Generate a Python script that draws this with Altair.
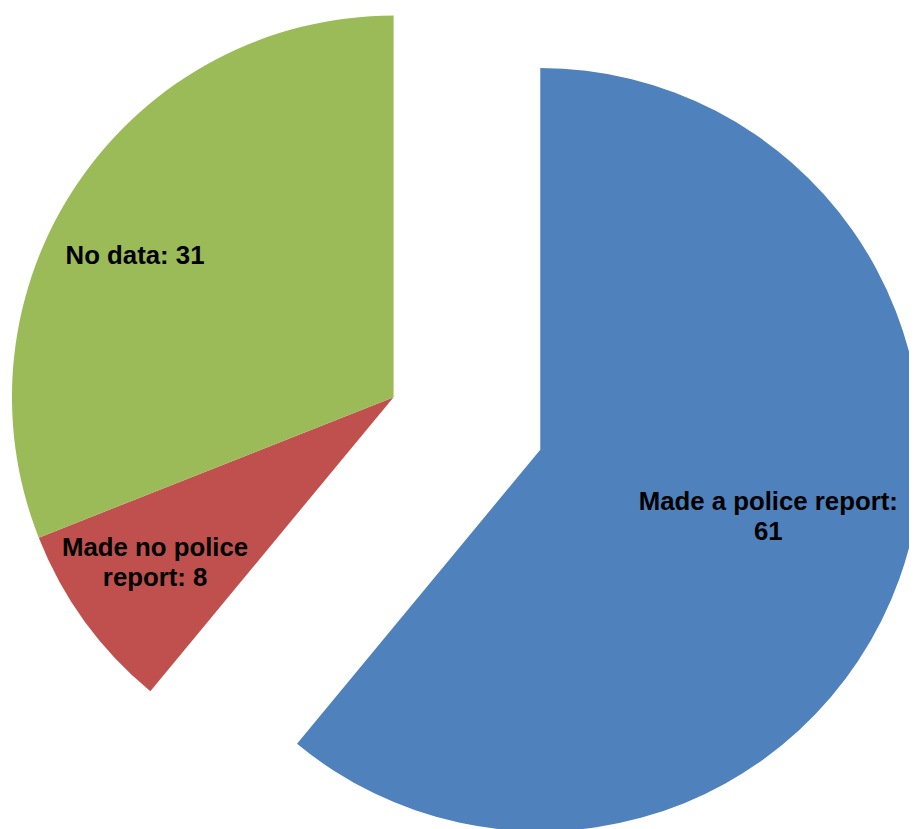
import altair as alt
import pandas as pd

categories = ["Made a police report", "Made no police report", "No data"]
values = [61, 8, 31]
labels = ["Made a police report:\n61", "Made no police\nreport: 8", "No data: 31"]
order_idx = [0, 1, 2]
colors = ["#4F81BD", "#C0504D", "#9BBB59"]

df = pd.DataFrame({"category": categories, "value": values, "label": labels, "idx": order_idx})

R = 385
BLUE_C = (537, 442)
REST_C = (389, 389)
FONT = "Liberation Sans"


def arc_layer(cats, center):
    return alt.Chart(df).mark_arc(outerRadius=R, innerRadius=0, strokeWidth=0).encode(
        theta=alt.Theta("value:Q", stack=True),
        order=alt.Order("idx:O"),
        color=alt.Color("category:N", scale=alt.Scale(domain=categories, range=colors), legend=None),
        opacity=alt.condition(alt.FieldOneOfPredicate(field="category", oneOf=cats), alt.value(1), alt.value(0)),
        x=alt.value(center[0]),
        y=alt.value(center[1]),
    )


def text_layer(cat, center, r, dx, dy):
    return alt.Chart(df).mark_text(
        radius=r, dx=dx, dy=dy, font=FONT, fontSize=26, fontWeight="bold",
        lineBreak="\n", lineHeight=30, color="black", align="center", baseline="middle",
    ).encode(
        theta=alt.Theta("value:Q", stack=True),
        order=alt.Order("idx:O"),
        detail="category:N",
        text="label:N",
        opacity=alt.condition(alt.FieldOneOfPredicate(field="category", oneOf=[cat]), alt.value(1), alt.value(0)),
        x=alt.value(center[0]),
        y=alt.value(center[1]),
    )


chart = alt.layer(
    arc_layer([categories[0]], BLUE_C),
    arc_layer([categories[1], categories[2]], REST_C),
    text_layer(categories[0], BLUE_C, 236, 8, -27),
    text_layer(categories[1], REST_C, 285, -10, -15),
    text_layer(categories[2], REST_C, 296, -16, 24),
).properties(
    width=909, height=821, padding=0, autosize=alt.AutoSizeParams(type="none")
).configure_view(stroke=None)

chart.save("out.html", embed_options={"renderer": "svg", "actions": False})
